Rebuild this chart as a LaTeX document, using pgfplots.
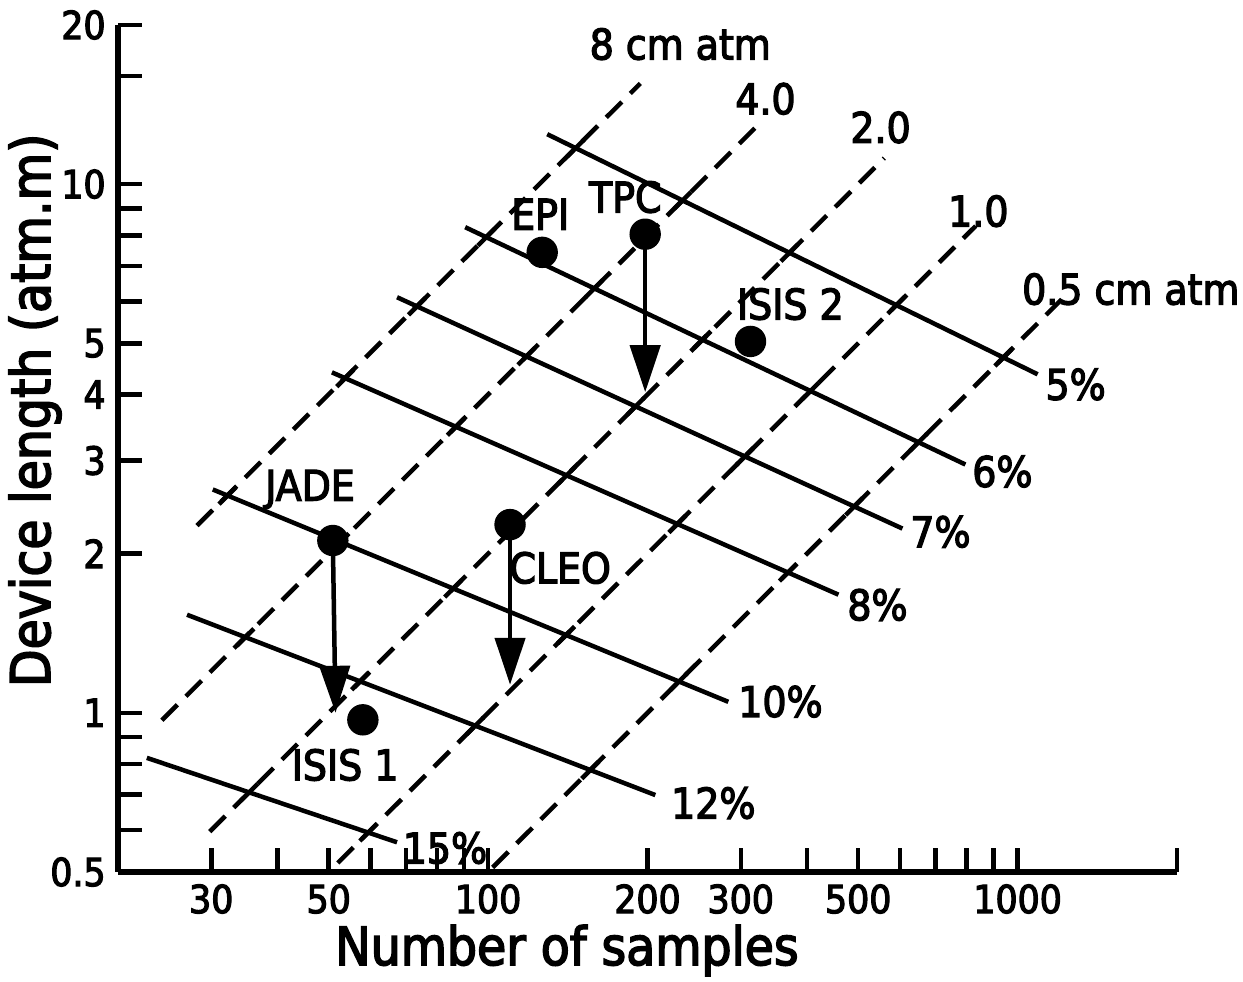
\documentclass[border=0pt]{standalone}
\usepackage{fontspec}
\setmainfont{DejaVu Sans Condensed}[FakeBold=3]
\usepackage{pgfplots}
\pgfplotsset{compat=1.18}
\usetikzlibrary{arrows.meta}

\begin{document}
\begin{tikzpicture}
\begin{axis}[
  xmode=log, ymode=log,
  scale only axis, width=105.9mm, height=84.7mm,
  xmin=20, xmax=2000, ymin=0.5, ymax=20,
  axis x line=bottom, axis y line=left,
  axis line style={-, line width=0.55mm},
  tick align=inside, major tick length=2.4mm,
  xminorticks=false, yminorticks=false,
  tick style={line width=0.45mm, black},
  xtick={30,40,50,60,70,80,90,100,200,300,400,500,600,700,800,900,1000,2000},
  xticklabels={30,,50,,,,,100,200,300,,500,,,,,1000,},
  ytick={0.5,0.6,0.7,0.8,0.9,1,2,3,4,5,6,7,8,9,10,16,20},
  yticklabels={0.5,,,,,1,2,3,4,5,,,,,10,,20},
  ticklabel style={font=\fontsize{11}{13}\selectfont},
  clip=false,
]
% constant resolution lines
\addplot[line width=0.45mm] coordinates {(129.3,12.43) (1091,4.368)};
\addplot[line width=0.45mm] coordinates {(90.5,8.29) (797,2.949)};
\addplot[line width=0.45mm] coordinates {(67.3,6.11) (606,2.231)};
\addplot[line width=0.45mm] coordinates {(50.7,4.405) (458.8,1.673)};
\addplot[line width=0.45mm] coordinates {(30.2,2.645) (284.2,1.049)};
\addplot[line width=0.45mm] coordinates {(27.0,1.533) (206.9,0.699)};
\addplot[line width=0.45mm] coordinates {(22.67,0.822) (67.3,0.569)};
% constant cm atm per sample
\addplot[line width=0.45mm, dash pattern=on 2.2mm off 1.2mm] coordinates {(28.2,2.26) (193.8,15.5)};
\addplot[line width=0.45mm, dash pattern=on 2.2mm off 1.2mm] coordinates {(24.2,0.968) (324,12.96)};
\addplot[line width=0.45mm, dash pattern=on 2.2mm off 1.2mm] coordinates {(29.8,0.596) (560,11.2)};
\addplot[line width=0.45mm, dash pattern=on 2.2mm off 1.2mm] coordinates {(52,0.52) (833,8.33)};
\addplot[line width=0.45mm, dash pattern=on 2.2mm off 1.2mm] coordinates {(102,0.51) (1250,6.25)};
% short marks where the two families cross
\addplot[only marks, mark=|, mark size=1.2mm, mark options={rotate=-45, line width=0.45mm}] coordinates {
  (146.3,11.70) (232.9,9.315) (370.8,7.416) (590.2,5.902) (939.7,4.699)
  (99.2,7.936) (158.7,6.348) (253.9,5.078) (406.2,4.062) (649.7,3.249)
  (73.4,5.872) (118.1,4.724) (189.9,3.798) (305.4,3.054) (491.3,2.456)
  (53.7,4.295) (86.9,3.475) (140.7,2.813) (227.7,2.276) (368.4,1.842)
  (32.2,2.576) (52.6,2.104) (85.9,1.718) (140.4,1.404) (229.3,1.146)
  (34.8,1.390) (57.3,1.147) (94.5,0.945) (155.9,0.779)
  (35.4,0.7077) (59.4,0.594)};
% devices
\addplot[only marks, mark=*, mark size=1.5mm] coordinates {
  (126.5,7.43) (198,8.04) (313,5.04) (50.9,2.118) (110,2.27) (58,0.97)};
\addplot[line width=0.45mm, -{Triangle[length=4.7mm,width=3mm]}] coordinates {(198,8.04) (198,4.04)};
\addplot[line width=0.45mm, -{Triangle[length=4.7mm,width=3mm]}] coordinates {(50.9,2.118) (51.5,1.0)};
\addplot[line width=0.45mm, -{Triangle[length=4.7mm,width=3mm]}] coordinates {(110,2.27) (110,1.13)};

\begin{scope}[every node/.style={font=\fontsize{12}{14}\selectfont}]
\node at (axis cs:230.6,18.4) {8 cm atm};
\node at (axis cs:334,14.5) {4.0};
\node at (axis cs:551,12.8) {2.0};
\node at (axis cs:843,8.89) {1.0};
\node at (axis cs:1636,6.33) {0.5 cm atm};
\node at (axis cs:1287,4.18) {5\%};
\node at (axis cs:936,2.86) {6\%};
\node at (axis cs:715,2.20) {7\%};
\node at (axis cs:543.6,1.60) {8\%};
\node at (axis cs:356.6,1.05) {10\%};
\node at (axis cs:266.3,0.675) {12\%};
\node at (axis cs:82.9,0.555) {15\%};
\node at (axis cs:125.4,8.77) {EPI};
\node at (axis cs:181.6,9.45) {TPC};
\node at (axis cs:372.3,5.93) {ISIS 2};
\node at (axis cs:46.1,2.645) {JADE};
\node at (axis cs:136.8,1.88) {CLEO};
\node at (axis cs:53.7,0.797) {ISIS 1};
\end{scope}

\coordinate (xl) at (rel axis cs:0.424,0);
\coordinate (yl) at (rel axis cs:0,0.545);
\coordinate (ll) at (rel axis cs:0,0);
\coordinate (ur) at (rel axis cs:1,1);
\end{axis}

\node[font=\fontsize{15}{18}\selectfont, anchor=base] at ([yshift=-9.3mm]xl) {Number of samples};
\node[font=\fontsize{15.5}{18}\selectfont, anchor=base, rotate=90] at ([xshift=-6.8mm]yl) {Device length (atm.m)};

\pgfresetboundingbox
\path[use as bounding box] ([shift={(-11.8mm,-11.0mm)}]ll) rectangle ([shift={(6.6mm,2.5mm)}]ur);
\end{tikzpicture}
\end{document}
